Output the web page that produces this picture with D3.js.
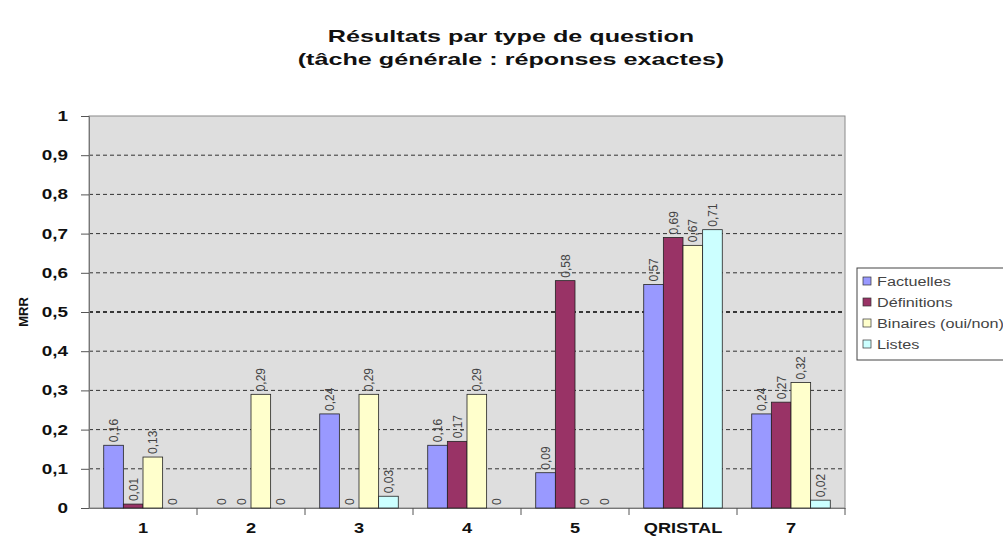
<!DOCTYPE html>
<html lang="fr">
<head>
<meta charset="UTF-8">
<title>Résultats par type de question</title>
<script src="https://cdn.jsdelivr.net/npm/d3@7"></script>
<style>
  body { margin: 0; background: #fff; }
  svg { font-family: Arial, "Liberation Sans", sans-serif; }
</style>
</head>
<body>
<script>
const categories = ['1', '2', '3', '4', '5', 'QRISTAL', '7']
const series = ['Factuelles', 'Définitions', 'Binaires (oui/non)', 'Listes']
const factuelles = [0.16, 0, 0.24, 0.16, 0.09, 0.57, 0.24]
const definitions = [0.01, 0, 0, 0.17, 0.58, 0.69, 0.27]
const binaires = [0.13, 0.29, 0.29, 0.29, 0, 0.67, 0.32]
const listes = [0, 0, 0.03, 0, 0, 0.71, 0.02]
const yTicks = [0, 0.1, 0.2, 0.3, 0.4, 0.5, 0.6, 0.7, 0.8, 0.9, 1]

const values = [factuelles, definitions, binaires, listes]
const colours = ['#9999ff', '#993366', '#ffffcc', '#ccffff']

const width = 1003
const height = 552
const margin = { left: 89, right: 158, top: 116, bottom: 44 }
const plotW = width - margin.left - margin.right
const plotH = height - margin.top - margin.bottom

const fmt = (v) => String(v).replace('.', ',')

// the original picture is stretched sideways, so widen horizontal text
function stretch(sel, k) {
  sel.each(function () {
    const len = this.getComputedTextLength()
    d3.select(this)
      .attr('textLength', len * k)
      .attr('lengthAdjust', 'spacingAndGlyphs')
  })
}

const svg = d3.select('body').append('svg')
  .attr('width', width)
  .attr('height', height)

const titles = svg.selectAll('.title')
  .data(['Résultats par type de question', '(tâche générale : réponses exactes)'])
  .enter()
  .append('text')
  .attr('class', 'title')
  .attr('x', 511)
  .attr('y', (d, i) => 42 + i * 23)
  .attr('text-anchor', 'middle')
  .attr('font-size', 17).attr('font-weight', 'bold')
  .attr('fill', '#111')
  .text((d) => d)
stretch(titles, 1.48)

const g = svg.append('g')
  .attr('transform', `translate(${margin.left},${margin.top})`)

const x = d3.scaleBand()
  .domain(categories)
  .range([0, plotW])

// excel style gap width 150%
const bw = x.bandwidth() / (series.length + 1.5)
const xInner = d3.scaleBand()
  .domain(series)
  .range([bw * 0.75, bw * 0.75 + bw * series.length])

const y = d3.scaleLinear()
  .domain([0, 1])
  .range([plotH, 0])

g.append('rect')
  .attr('width', plotW).attr('height', plotH)
  .attr('fill', '#dedede')
  .attr('stroke', '#8a8a8a')

g.selectAll('.grid')
  .data(yTicks.filter((d) => d > 0 && d < 1))
  .enter()
  .append('line')
  .attr('class', 'grid')
  .attr('x1', 0).attr('x2', plotW)
  .attr('y1', (d) => y(d)).attr('y2', (d) => y(d))
  .attr('stroke', (d) => d === 0.5 ? '#000' : '#333')
  .attr('stroke-width', (d) => d === 0.5 ? 1.3 : 1)
  .attr('stroke-dasharray', '4,3')

const yAxis = g.append('g')
  .call(d3.axisLeft(y).tickValues(yTicks).tickSize(8).tickFormat(fmt))
yAxis.select('.domain').attr('stroke', '#777')
yAxis.selectAll('.tick line').attr('stroke', '#555')
yAxis.selectAll('.tick text')
  .attr('font-size', 14).attr('font-weight', 'bold')
  .attr('fill', '#111').attr('x', -21)
stretch(yAxis.selectAll('.tick text'), 1.35)

const xAxis = g.append('g')
  .attr('transform', `translate(0,${plotH})`)
  .call(d3.axisBottom(x).tickSize(0).tickPadding(15))
xAxis.select('.domain').attr('stroke', '#777')
xAxis.selectAll('.tick text')
  .attr('font-size', 14).attr('font-weight', 'bold')
  .attr('fill', '#111')
stretch(xAxis.selectAll('.tick text'), 1.3)

g.selectAll('.xtick')
  .data(categories)
  .enter()
  .append('line')
  .attr('class', 'xtick')
  .attr('x1', (d) => x(d) + x.bandwidth()).attr('x2', (d) => x(d) + x.bandwidth())
  .attr('y1', plotH).attr('y2', plotH + 7)
  .attr('stroke', '#555')

svg.append('text')
  .attr('transform', `translate(28,${margin.top + plotH / 2}) rotate(-90)`)
  .attr('text-anchor', 'middle')
  .attr('font-size', 13).attr('font-weight', 'bold')
  .attr('fill', '#111')
  .text('MRR')

const groups = g.selectAll('.group')
  .data(categories)
  .enter()
  .append('g')
  .attr('class', 'group')
  .attr('transform', (d) => `translate(${x(d)},0)`)

const cells = (d, ci) => series.map((s, si) => ({ s: s, si: si, v: values[si][ci] }))

groups.selectAll('rect')
  .data(cells)
  .enter()
  .filter((d) => d.v > 0)
  .append('rect')
  .attr('x', (d) => xInner(d.s))
  .attr('width', xInner.bandwidth())
  .attr('y', (d) => y(d.v))
  .attr('height', (d) => plotH - y(d.v))
  .attr('fill', (d) => colours[d.si])
  .attr('stroke', '#222')
  .attr('stroke-width', 0.8)

groups.selectAll('text.lbl')
  .data(cells)
  .enter()
  .append('text')
  .attr('class', 'lbl')
  .attr('transform', (d) =>
    `translate(${xInner(d.s) + xInner.bandwidth() / 2 + 4.5},${y(d.v) - 3}) rotate(-90)`)
  .attr('font-size', 12)
  .attr('fill', '#444')
  .text((d) => fmt(d.v))

const legend = svg.append('g')
  .attr('transform', 'translate(857,268)')

legend.append('rect')
  .attr('width', 160).attr('height', 92)
  .attr('fill', '#fff')
  .attr('stroke', '#444')

legend.selectAll('.sw')
  .data(series)
  .enter()
  .append('rect')
  .attr('class', 'sw')
  .attr('x', 6)
  .attr('y', (d, i) => 9 + i * 21)
  .attr('width', 8).attr('height', 8)
  .attr('fill', (d, i) => colours[i])
  .attr('stroke', '#333')
  .attr('stroke-width', 0.7)

const legendText = legend.selectAll('.lt')
  .data(series)
  .enter()
  .append('text')
  .attr('class', 'lt')
  .attr('x', 20)
  .attr('y', (d, i) => 18 + i * 21)
  .attr('font-size', 12)
  .attr('fill', '#444')
  .text((d) => d)
stretch(legendText, 1.35)
</script>
</body>
</html>
